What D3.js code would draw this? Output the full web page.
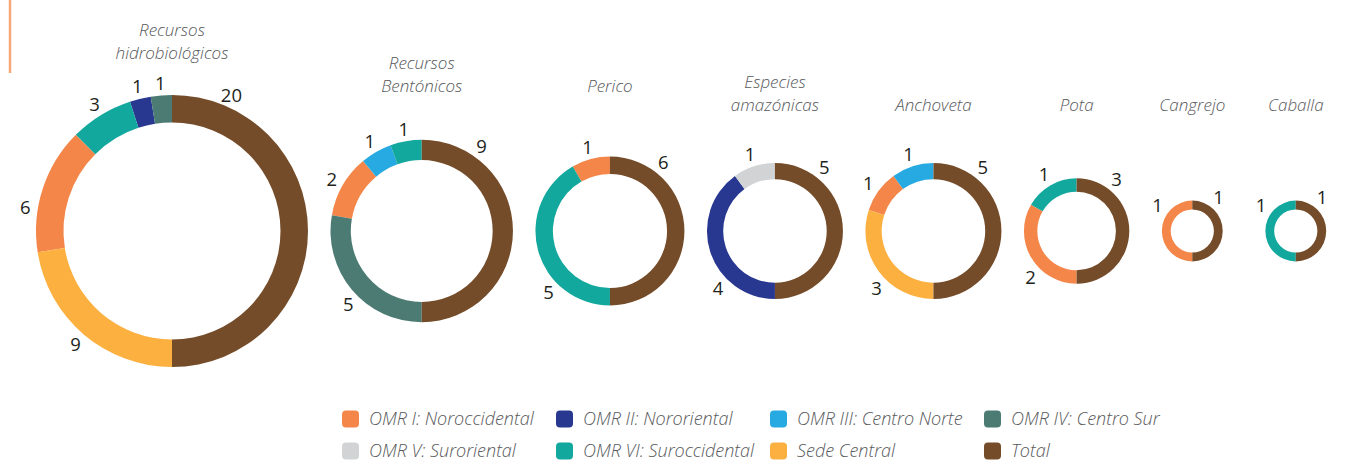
<!DOCTYPE html>
<html>
<head>
<meta charset="utf-8">
<title>Donas por especie</title>
<script src="https://cdn.jsdelivr.net/npm/d3@7"></script>
<style>
  body { margin: 0; background: #fff; }
  text { font-family: "Open Sans", "DejaVu Sans", sans-serif; }
</style>
</head>
<body>
<svg id="chart" width="1366" height="463"></svg>
<script>
// categorias (cada dona) y series
var categories = ["Recursos\nhidrobiológicos", "Recursos\nBentónicos", "Perico", "Especies\namazónicas",
                  "Anchoveta", "Pota", "Cangrejo", "Caballa"]
var series = ["OMR I: Noroccidental", "OMR II: Nororiental", "OMR III: Centro Norte", "OMR IV: Centro Sur",
              "OMR V: Suroriental", "OMR VI: Suroccidental", "Sede Central", "Total"]
var colors = ["#F4864A", "#283891", "#27A9E1", "#4B7B72", "#D1D3D4", "#13A89E", "#FBB040", "#754C29"]

// valores por serie, en el orden de categories
var omr1  = [6, 2, 1, 0, 1, 2, 1, 0]
var omr2  = [1, 0, 0, 4, 0, 0, 0, 0]
var omr3  = [0, 1, 0, 0, 1, 0, 0, 0]
var omr4  = [1, 5, 0, 0, 0, 0, 0, 0]
var omr5  = [0, 0, 0, 1, 0, 0, 0, 0]
var omr6  = [3, 1, 5, 0, 0, 1, 0, 1]
var sede  = [9, 0, 0, 0, 3, 0, 0, 0]
var total = [20, 9, 6, 5, 5, 3, 1, 1]
var seriesValues = [omr1, omr2, omr3, omr4, omr5, omr6, sede, total]

var svg = d3.select("#chart")
var cy = 231

var rScale = d3.scaleSqrt().domain([0, 20]).range([0, 136])
var thick = d3.scalePow().exponent(0.38).domain([0, 20]).range([0, 27.5])
var titleY = d3.scaleThreshold().domain([6, 20]).range([111, 92, 59])

// barra naranja de la esquina
svg.append("line")
    .attr("x1", 10).attr("x2", 10).attr("y1", 0).attr("y2", 73)
    .attr("stroke", "#F8A878").attr("stroke-width", 2.5)

// centros: una dona tras otra
var cx = []
var x = 0, prevHalf = 0
categories.forEach(function (c, i) {
    var half = Math.max(rScale(total[i]), 40.5)
    if (i == 0) x = 36 + half
    else x = x + prevHalf + 22.5 + half
    cx.push(x)
    prevHalf = half
})

var pie = d3.pie()
    .value(function (d) { return d.value })
    .sort(function (a, b) {
        return (b.key == "Total") - (a.key == "Total") || b.value - a.value
    })

categories.forEach(function (cat, i) {
    var r = rScale(total[i])
    var data = series.map(function (s, j) {
        return { key: s, value: seriesValues[j][i], color: colors[j] }
    }).filter(function (d) { return d.value > 0 })

    var arcs = pie(data)
    var arc = d3.arc().innerRadius(r - thick(total[i])).outerRadius(r)

    var g = svg.append("g").attr("transform", "translate(" + cx[i] + "," + cy + ")")

    g.selectAll("path")
        .data(arcs)
        .enter()
        .append("path")
        .attr("d", arc)
        .attr("fill", function (d) { return d.data.color })

    // angulo de cada etiqueta
    function labelAngle(d) {
        if (d.data.key == "Total") return Math.min(0.66, 56 / r)
        var mid = (d.startAngle + d.endAngle) / 2
        if (d.endAngle - d.startAngle >= Math.PI - 0.001) return 1.7 * Math.PI
        if (Math.abs(d.startAngle - Math.PI) < 0.001 && mid > 1.25 * Math.PI) return 1.25 * Math.PI
        if (mid > 1.5 * Math.PI && mid < 1.62 * Math.PI) return mid - 0.05 * Math.PI
        return mid
    }

    var lr = r + 12.5
    g.selectAll(".val")
        .data(arcs)
        .enter()
        .append("text")
        .attr("class", "val")
        .attr("x", function (d) { return lr * Math.sin(labelAngle(d)) })
        .attr("y", function (d) { return -lr * Math.cos(labelAngle(d)) })
        .attr("dy", "0.36em")
        .attr("text-anchor", "middle")
        .attr("font-size", 18.5)
        .attr("fill", "#231F20")
        .text(function (d) { return d.value })

    // titulo, una linea por texto
    var lines = cat.split("\n")
    var last = titleY(total[i])
    lines.forEach(function (l, k) {
        svg.append("text")
            .attr("x", cx[i])
            .attr("y", last - (lines.length - 1 - k) * 23.5)
            .attr("text-anchor", "middle")
            .attr("font-size", 17)
            .attr("font-style", "italic")
            .attr("font-weight", 300)
            .attr("fill", "#58595B")
            .text(l)
    })
})

// leyenda
var colX = d3.scalePoint().domain([0, 1, 2, 3]).range([342, 984])
var rowY = [419, 451]
var legend = svg.append("g")
series.forEach(function (s, j) {
    var lx = colX(j % 4), ly = rowY[Math.floor(j / 4)]
    legend.append("rect")
        .attr("x", lx).attr("y", ly - 8.5)
        .attr("width", 17).attr("height", 17)
        .attr("rx", 4)
        .attr("fill", colors[j])
    legend.append("text")
        .attr("x", lx + 27).attr("y", ly + 6)
        .attr("font-size", 18)
        .attr("font-style", "italic")
        .attr("font-weight", 300)
        .attr("fill", "#58595B")
        .text(s)
})
</script>
</body>
</html>
